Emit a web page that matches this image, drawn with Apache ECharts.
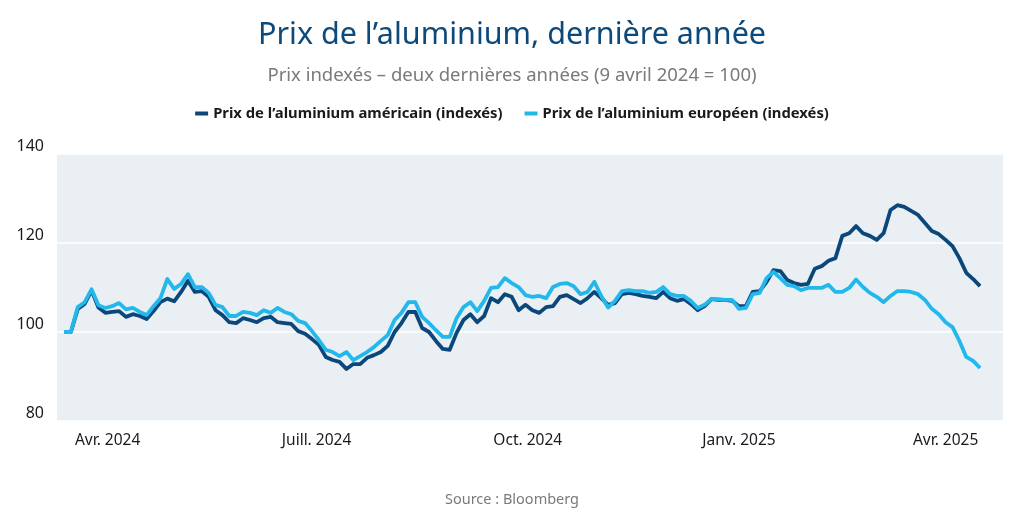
<!DOCTYPE html>
<html>
<head>
<meta charset="utf-8">
<script src="https://cdn.jsdelivr.net/npm/echarts@6/dist/echarts.min.js"></script>
<style>
  html, body { margin: 0; padding: 0; background: #ffffff; }
  #chart { width: 1024px; height: 513px; }
</style>
</head>
<body>
<div id="chart"></div>
<script>
// ---- Data ----
const startDate = Date.UTC(2024, 3, 9);   // 9 avril 2024 = 100
const stepDays = 3;

const usPrices = [
  100.0, 100.0, 105.2, 106.3, 109.3, 105.5, 104.3, 104.5, 104.7, 103.4,
  104.0, 103.6, 102.9, 104.7, 106.7, 107.5, 106.9, 109.0, 111.5, 109.0,
  109.2, 107.9, 104.9, 103.8, 102.2, 102.0, 103.1, 102.7, 102.2, 103.1,
  103.4, 102.2, 102.0, 101.8, 100.2, 99.6, 98.4, 97.1, 94.4, 93.7,
  93.3, 91.7, 92.8, 92.8, 94.2, 94.8, 95.5, 96.9, 100.0, 102.0,
  104.5, 104.5, 100.9, 100.0, 98.0, 96.2, 96.0, 99.8, 102.7, 104.0,
  102.2, 103.6, 107.6, 106.7, 108.5, 107.9, 104.9, 106.1, 104.9, 104.3,
  105.6, 105.8, 107.9, 108.3, 107.4, 106.5, 107.6, 109.0, 107.6, 106.1,
  106.5, 108.5, 108.8, 108.5, 108.1, 107.9, 107.6, 109.0, 107.6, 107.0,
  107.4, 106.3, 104.9, 105.8, 107.4, 107.2, 107.2, 107.0, 105.8, 105.8,
  109.0, 109.2, 111.2, 113.9, 113.7, 111.7, 111.0, 110.6, 110.8, 114.2,
  114.8, 116.0, 116.6, 121.6, 122.2, 123.8, 122.2, 121.6, 120.7, 122.2,
  127.4, 128.5, 128.1, 127.2, 126.3, 124.5, 122.7, 122.0, 120.7, 119.3,
  116.6, 113.3, 111.9, 110.3
];

const euPrices = [
  100.0, 100.0, 105.6, 106.7, 109.6, 106.0, 105.4, 105.8, 106.5, 105.1,
  105.4, 104.5, 103.8, 105.8, 107.6, 111.9, 109.7, 110.8, 113.0, 110.1,
  110.1, 108.8, 106.1, 105.6, 103.6, 103.6, 104.5, 104.3, 103.8, 104.9,
  104.3, 105.4, 104.5, 104.0, 102.5, 102.0, 100.2, 98.2, 96.0, 95.5,
  94.6, 95.5, 93.7, 94.6, 95.5, 96.6, 98.0, 99.3, 102.7, 104.3,
  106.7, 106.7, 103.4, 102.0, 100.4, 98.9, 98.9, 103.1, 105.6, 106.7,
  104.7, 107.0, 109.9, 110.1, 112.1, 111.0, 110.1, 108.3, 107.9, 108.1,
  107.6, 110.1, 110.8, 111.0, 110.3, 108.5, 109.0, 111.3, 108.1, 105.5,
  107.0, 109.2, 109.4, 109.2, 109.2, 108.8, 109.0, 110.1, 108.5, 108.1,
  108.1, 107.0, 105.4, 106.1, 107.4, 107.4, 107.2, 107.2, 105.2, 105.4,
  108.5, 108.8, 112.1, 113.5, 112.1, 110.6, 110.3, 109.4, 109.9, 109.9,
  109.9, 110.6, 109.0, 109.0, 109.9, 111.8, 110.1, 108.8, 107.9, 106.7,
  108.1, 109.2, 109.2, 109.0, 108.5, 107.2, 105.2, 104.0, 102.2, 101.1,
  98.0, 94.4, 93.5, 91.9
];

const tickLabels = ['Avr. 2024', 'Juill. 2024', 'Oct. 2024', 'Janv. 2025', 'Avr. 2025'];
const tickDates = [
  Date.UTC(2024, 3, 28), Date.UTC(2024, 6, 28), Date.UTC(2024, 9, 28),
  Date.UTC(2025, 0, 28), Date.UTC(2025, 3, 28)
];

const seriesNames = [
  "Prix de l\u2019aluminium américain (indexés)",
  "Prix de l\u2019aluminium européen (indexés)"
];

// ---- Build ----
const DAY = 86400000;
const dates = usPrices.map((_, i) => startDate + i * stepDays * DAY);
const usData = usPrices.map((v, i) => [dates[i], v]);
const euData = euPrices.map((v, i) => [dates[i], v]);

const FONT = 'Noto Sans';
const chart = echarts.init(document.getElementById('chart'), null, { renderer: 'canvas' });

chart.setOption({
  animation: false,
  backgroundColor: '#ffffff',
  textStyle: { fontFamily: FONT },
  title: [
    {
      text: "Prix de l\u2019aluminium, dernière année",
      left: 'center', top: 15,
      textStyle: { fontFamily: FONT, fontSize: 30.5, fontWeight: 'normal', color: '#0d4a7c' }
    },
    {
      text: 'Prix indexés \u2013 deux dernières années (9 avril 2024 = 100)',
      left: 'center', top: 61,
      textStyle: { fontFamily: FONT, fontSize: 18.5, fontWeight: 'normal', color: '#7a7a7a' }
    },
    {
      text: 'Source : Bloomberg',
      left: 'center', top: 487,
      textStyle: { fontFamily: FONT, fontSize: 14.5, fontWeight: 'normal', color: '#7a7a7a' }
    }
  ],
  legend: {
    top: 101, left: 'center',
    itemWidth: 13, itemHeight: 4, itemGap: 22,
    icon: 'rect',
    textStyle: { fontFamily: FONT, fontSize: 14.8, fontWeight: 'bold', color: '#1a1a1a' },
    data: seriesNames
  },
  grid: {
    left: 57, right: 21, top: 154, bottom: 92,
    show: true, backgroundColor: '#e9eff2', borderWidth: 0
  },
  xAxis: {
    type: 'value',
    min: startDate - 3.05 * DAY,
    max: startDate + 409 * DAY,
    axisLine: { show: false },
    axisTick: { show: false },
    splitLine: { show: false },
    axisLabel: {
      customValues: tickDates,
      margin: 12,
      fontFamily: FONT, fontSize: 15.5, color: '#1a1a1a',
      formatter: function (val) {
        let best = 0, bd = Infinity;
        tickDates.forEach((d, i) => { const dd = Math.abs(d - val); if (dd < bd) { bd = dd; best = i; } });
        return tickLabels[best];
      }
    }
  },
  yAxis: {
    type: 'value',
    min: 80, max: 140, interval: 20,
    axisLine: { show: false },
    axisTick: { show: false },
    splitLine: { show: true, lineStyle: { color: '#ffffff', width: 1.5 } },
    axisLabel: {
      fontFamily: FONT, fontSize: 16, color: '#1a1a1a',
      margin: 13, verticalAlign: 'bottom'
    }
  },
  series: [
    {
      name: seriesNames[0], type: 'line', data: usData,
      showSymbol: false, symbol: 'none',
      color: '#0b477a',
      lineStyle: { width: 3.8, color: '#0b477a', join: 'round' }
    },
    {
      name: seriesNames[1], type: 'line', data: euData,
      showSymbol: false, symbol: 'none',
      color: '#22b8eb',
      lineStyle: { width: 3.8, color: '#22b8eb', join: 'round' }
    }
  ]
});
</script>
</body>
</html>
